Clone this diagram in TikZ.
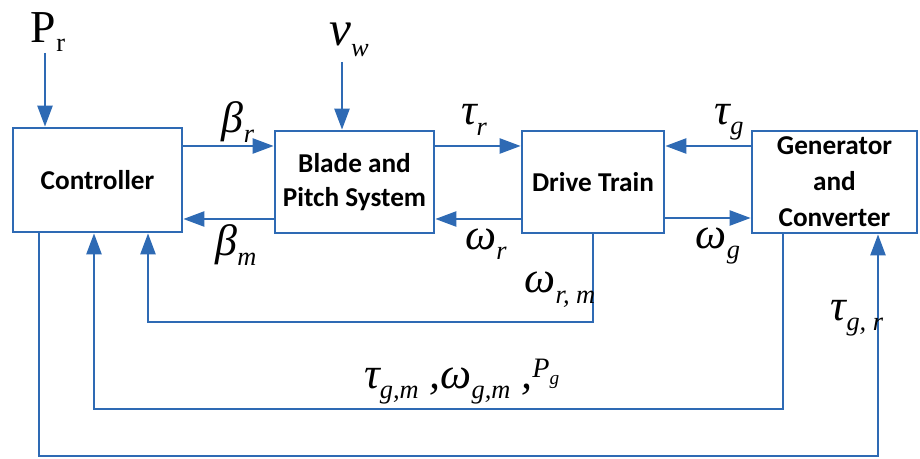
\documentclass[tikz,border=0pt]{standalone}
\usepackage{fontspec}
\setmainfont{Carlito}
\newfontfamily\symfont{Liberation Serif}
\usepackage{tikz}
\usetikzlibrary{arrows.meta, calc}
\definecolor{lineblue}{RGB}{46,106,180}
\tikzstyle{block} = [rectangle, draw=lineblue, line width=1.5pt,
  align=center, inner sep=0pt,
  font=\fontsize{15.5}{19}\selectfont\bfseries]
\tikzstyle{arrow} = [draw=lineblue, line width=1.5pt,
  -{Triangle[length=12pt,width=8.5pt]}]
\tikzstyle{sig} = [inner sep=1pt, font=\fontsize{25}{27}\selectfont\symfont\itshape]
% signal name with a small, low subscript
\newcommand{\signal}[2]{#1\raisebox{-6pt}{\fontsize{15}{15}\selectfont #2}}

\begin{document}
\begin{tikzpicture}[x=0.02cm, y=-0.02cm]
\useasboundingbox (0,0) rectangle (920,459);

% the four blocks
\node (ctrl) [block, minimum width=3.38cm, minimum height=2.08cm] at (97.5,180) {Controller};
\node (blade) [block, minimum width=3.18cm, minimum height=2.04cm] at (354.5,182) {Blade and\\Pitch System};
\node (drive) [block, minimum width=2.84cm, minimum height=2.04cm] at (593,182) {Drive Train};
\node (gen) [block, minimum width=3.3cm, minimum height=2.04cm,
  font=\fontsize{15.5}{20.5}\selectfont\bfseries] at (834.5,182) {Generator\\and\\Converter};

% outside inputs
\node (pr) [sig, font=\fontsize{26}{28}\selectfont\symfont] at (48,32) {P\raisebox{-5pt}{\fontsize{15}{15}\selectfont r}};
\node (vw) [sig, font=\fontsize{28}{30}\selectfont\symfont\itshape] at (349,40) {\signal{v}{w}};
\coordinate (prin) at (45,53);
\coordinate (vwin) at (342,62);
\draw [arrow] (prin) -- (ctrl.north -| prin);
\draw [arrow] (vwin) -- (blade.north -| vwin);

% forward and back signals between the blocks
\draw [arrow] (ctrl.east |- 0,146) -- (blade.west |- 0,146);
\draw [arrow] (blade.west |- 0,219) -- (ctrl.east |- 0,219);
\draw [arrow] (blade.east |- 0,146) -- (drive.west |- 0,146);
\draw [arrow] (drive.west |- 0,219) -- (blade.east |- 0,219);
\draw [arrow] (gen.west |- 0,146) -- (drive.east |- 0,146);
\draw [arrow] (drive.east |- 0,218) -- (gen.west |- 0,218);

\node (br) [sig] at (238,122) {\signal{β}{r}};
\node (bm) [sig] at (236,245) {\signal{β}{m}};
\node (tr) [sig] at (474,120) {\signal{τ}{r}};
\node (wr) [sig] at (486,244) {\signal{ω}{r}};
\node (tg) [sig] at (729,122) {\signal{τ}{g}};
\node (wg) [sig] at (718,246) {\signal{ω}{g}};

% feedback loops under the blocks
\coordinate (fb1) at (148,322);
\coordinate (fb2) at (94,409);
\coordinate (fb3) at (39,456);
\draw [arrow] (drive.south) |- (fb1) -- (ctrl.south -| fb1);
\draw [arrow] (gen.south -| 783,0) |- (fb2) -- (ctrl.south -| fb2);
\draw [arrow] (ctrl.south -| fb3) -- (fb3) -| (gen.south -| 878,0);

\node (wrm) [sig] at (560,290) {\signal{ω}{r, m}};
\node (tgr) [sig] at (857,318) {\signal{τ}{g, r}};
\node (meas) [sig, anchor=west] at (362,382) {\signal{τ}{g,m} ,\signal{ω}{g,m} ,\raisebox{6pt}{\fontsize{16}{16}\selectfont P\raisebox{-4pt}{\fontsize{11}{11}\selectfont g}}};
\end{tikzpicture}
\end{document}
